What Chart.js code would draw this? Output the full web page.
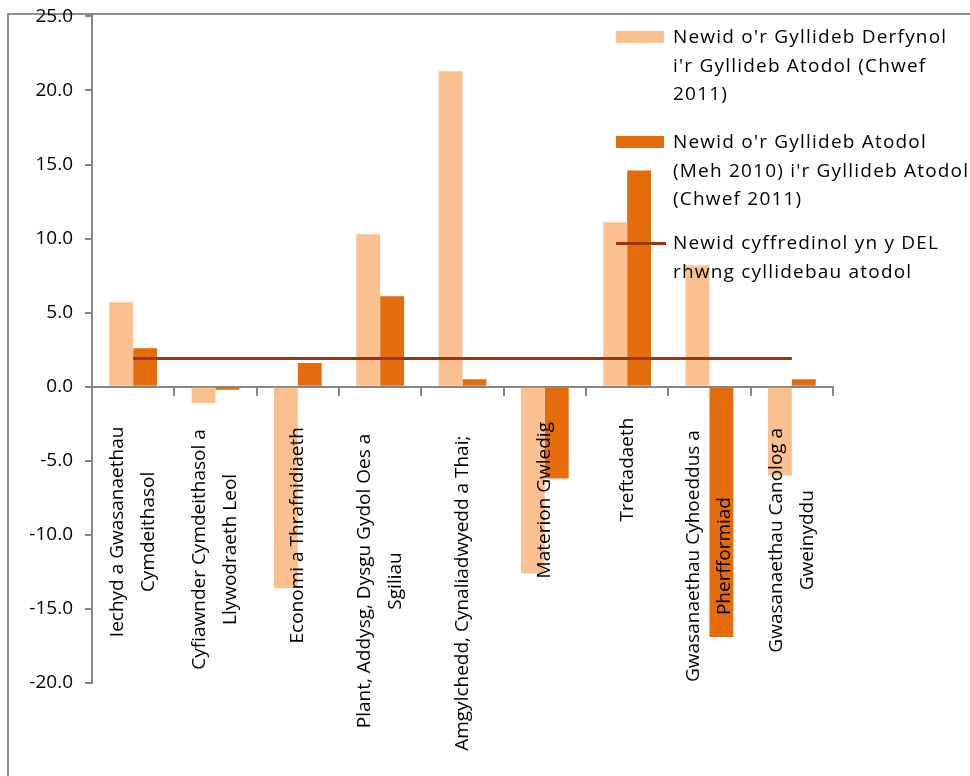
<!DOCTYPE html>
<html>
<head>
<meta charset="utf-8">
<script src="https://cdn.jsdelivr.net/npm/chart.js@4"></script>
<style>
  body { margin: 0; background: #fff; }
  #wrap { position: relative; width: 970px; height: 776px; overflow: hidden; }
  #frame { position: absolute; left: 7px; top: 13px; width: 1000px; height: 800px;
           border-left: 2px solid #8c8c8c; border-top: 2px solid #8c8c8c; }
  canvas { position: absolute; left: 0; top: -7px; }
  .leg { position: absolute; left: 673px; font-family: "Open Sans", sans-serif; font-size: 19px;
         line-height: 28.5px; letter-spacing: 1.2px; color: #000; }
  .sw { position: absolute; left: 616px; }
</style>
</head>
<body>
<div id="wrap">
  <div id="frame"></div>
  <canvas id="chart" width="970" height="783"></canvas>
  <div class="sw" style="top:31px;width:48px;height:12px;background:#fac090"></div>
  <div class="leg" style="top:22px">Newid o'r Gyllideb Derfynol<br>i'r Gyllideb Atodol (Chwef<br>2011)</div>
  <div class="sw" style="top:136px;width:48px;height:12px;background:#e46c0a"></div>
  <div class="leg" style="top:127px">Newid o'r Gyllideb Atodol<br>(Meh 2010) i'r Gyllideb Atodol<br>(Chwef 2011)</div>
  <div class="sw" style="top:242px;width:50px;height:3px;background:#983709"></div>
  <div class="leg" style="top:228px">Newid cyffredinol yn y DEL<br>rhwng cyllidebau atodol</div>
</div>
<script>
// Data
const categories = [
  ['Iechyd a Gwasanaethau', 'Cymdeithasol'],
  ['Cyfiawnder Cymdeithasol a', 'Llywodraeth Leol'],
  ['Economi a Thrafnidiaeth'],
  ['Plant, Addysg, Dysgu Gydol Oes a', 'Sgiliau'],
  ['Amgylchedd, Cynaliadwyedd a Thai;'],
  ['Materion Gwledig'],
  ['Treftadaeth'],
  ['Gwasanaethau Cyhoeddus a', 'Pherfformiad'],
  ['Gwasanaethau Canolog a', 'Gweinyddu']
];
const finalToSupp = [5.7, -1.1, -13.6, 10.3, 21.3, -12.6, 11.1, 8.2, -6.0];
const suppToSupp = [2.6, -0.2, 1.6, 6.1, 0.5, -6.2, 14.6, -16.9, 0.5];
const overallChange = [1.9, 1.9, 1.9, 1.9, 1.9, 1.9, 1.9, 1.9, 1.9];
const seriesNames = [
  "Newid o'r Gyllideb Derfynol i'r Gyllideb Atodol (Chwef 2011)",
  "Newid o'r Gyllideb Atodol (Meh 2010) i'r Gyllideb Atodol (Chwef 2011)",
  'Newid cyffredinol yn y DEL rhwng cyllidebau atodol'
];

const axisGray = '#868686';
const font = '"Open Sans", sans-serif';

// Rotated category labels, lines centred like the original
const catLabels = {
  id: 'catLabels',
  afterDraw(chart) {
    const { ctx, scales: { x, y } } = chart;
    const zero = y.getPixelForValue(0);
    ctx.save();
    ctx.font = '19px ' + font;
    ctx.fillStyle = '#000';
    ctx.textAlign = 'center';
    ctx.textBaseline = 'middle';
    categories.forEach((lines, i) => {
      const cx = x.getPixelForValue(i);
      const maxW = Math.max(...lines.map(l => ctx.measureText(l).width));
      const top = zero + 22 + 0.085 * maxW;
      ctx.save();
      ctx.translate(cx, top + maxW / 2);
      ctx.rotate(-Math.PI / 2);
      lines.forEach((l, j) => ctx.fillText(l, 0, (j - (lines.length - 1) / 2) * 31));
      ctx.restore();
    });
    ctx.restore();
  }
};

new Chart(document.getElementById('chart'), {
  type: 'bar',
  data: {
    labels: categories,
    datasets: [
      { type: 'line', label: seriesNames[2], data: overallChange, borderColor: '#983709',
        borderWidth: 3, pointRadius: 0, order: 0 },
      { label: seriesNames[0], data: finalToSupp, backgroundColor: '#fac090', order: 1,
        categoryPercentage: 0.58, barPercentage: 1 },
      { label: seriesNames[1], data: suppToSupp, backgroundColor: '#e46c0a', order: 2,
        categoryPercentage: 0.58, barPercentage: 1 }
    ]
  },
  options: {
    responsive: false,
    animation: false,
    layout: { padding: { top: 9, right: 137, bottom: 93, left: 0 } },
    plugins: { legend: { display: false }, tooltip: { enabled: false } },
    scales: {
      x: {
        position: { y: 0 },
        offset: true,
        grid: { offset: true, drawOnChartArea: false, tickLength: 8, color: axisGray, lineWidth: 2 },
        border: { color: axisGray, width: 2 },
        ticks: { display: false }
      },
      y: {
        min: -20, max: 25,
        ticks: { stepSize: 5, color: '#000', padding: 12, font: { family: font, size: 19 },
                 callback: v => v.toFixed(1) },
        grid: { drawOnChartArea: false, tickLength: 7, color: axisGray, lineWidth: 2 },
        border: { color: axisGray, width: 2 },
        afterFit: s => { s.width = 92; }
      }
    }
  },
  plugins: [catLabels]
});
</script>
</body>
</html>
